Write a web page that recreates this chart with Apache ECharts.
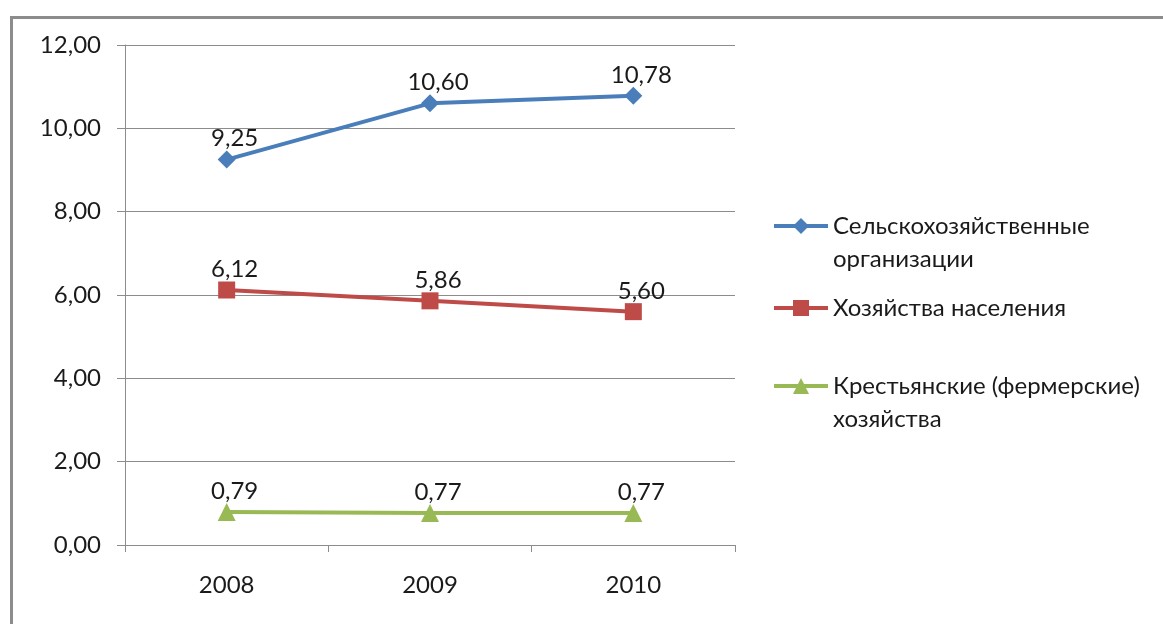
<!DOCTYPE html>
<html>
<head>
<meta charset="utf-8">
<script src="https://cdn.jsdelivr.net/npm/echarts@6/dist/echarts.min.js"></script>
<style>
html,body{margin:0;padding:0;background:#fff;}
#chart{width:1163px;height:624px;}
</style>
</head>
<body>
<div id="chart"></div>
<script>
const categories = ['2008', '2009', '2010'];
const seriesNames = ['Сельскохозяйственные\nорганизации', 'Хозяйства населения', 'Крестьянские (фермерские)\nхозяйства'];
const agriOrgs = [9.25, 10.60, 10.78];
const households = [6.12, 5.86, 5.60];
const farms = [0.79, 0.77, 0.77];

const FONT = 'Lato';
const FS = 24;
const colors = ['#4A7EBB', '#BE4B48', '#98B954'];
const symbols = ['diamond', 'rect', 'triangle'];
const symbolSizes = [18, 17, 18];
const values = [agriOrgs, households, farms];

const fmt = v => Number(v).toFixed(2).replace('.', ',');

const chart = echarts.init(document.getElementById('chart'));

const series = values.map((arr, i) => ({
  name: seriesNames[i],
  type: 'line',
  data: arr,
  symbol: symbols[i],
  symbolSize: symbolSizes[i],
  showAllSymbol: true,
  itemStyle: { color: colors[i] },
  lineStyle: { color: colors[i], width: 4 },
  label: {
    show: true,
    position: 'top',
    distance: 0,
    offset: [8, 0],
    formatter: p => fmt(p.value),
    fontFamily: FONT,
    fontSize: FS,
    color: '#1a1a1a'
  },
  emphasis: { disabled: true },
  animation: false
}));

const LH = 33;
const legendCenters = [226, 308, 386];
const legends = seriesNames.map((n, i) => {
  const multi = n.indexOf('\n') >= 0;
  return {
    data: [n],
    left: 772,
    top: multi ? legendCenters[i] - LH * 1.5 : legendCenters[i] - LH / 2,
    orient: 'vertical',
    padding: 0,
    itemWidth: 54,
    itemHeight: 20,
    itemGap: 0,
    selectedMode: false,
    lineStyle: { width: 4 },
    formatter: name => (name.indexOf('\n') >= 0 ? '\n' + name : name),
    textStyle: {
      fontFamily: FONT,
      fontSize: FS,
      color: '#1a1a1a',
      lineHeight: LH
    }
  };
});

chart.setOption({
  backgroundColor: '#fff',
  animation: false,
  graphic: [{
    type: 'rect',
    left: 9,
    top: 15,
    shape: { x: 0, y: 0, width: 1200, height: 700 },
    style: { fill: 'none', stroke: '#8c8c8c', lineWidth: 3 },
    silent: true
  }],
  legend: legends,
  grid: { left: 125, top: 45, width: 610, height: 500, containLabel: false },
  xAxis: {
    type: 'category',
    data: categories,
    boundaryGap: true,
    axisLine: { show: true, lineStyle: { color: '#8c8c8c', width: 1 } },
    axisTick: { show: true, length: 7, lineStyle: { color: '#8c8c8c' } },
    axisLabel: { fontFamily: FONT, fontSize: FS, color: '#1a1a1a', margin: 28 },
    splitLine: { show: false }
  },
  yAxis: {
    type: 'value',
    min: 0,
    max: 12,
    interval: 2,
    axisLine: { show: true, lineStyle: { color: '#8c8c8c', width: 1 } },
    axisTick: { show: true, length: 8, lineStyle: { color: '#8c8c8c' } },
    axisLabel: { fontFamily: FONT, fontSize: FS, color: '#1a1a1a', margin: 24, formatter: v => fmt(v) },
    splitLine: { show: true, lineStyle: { color: '#8c8c8c', width: 1 } }
  },
  series: series
});
</script>
</body>
</html>
